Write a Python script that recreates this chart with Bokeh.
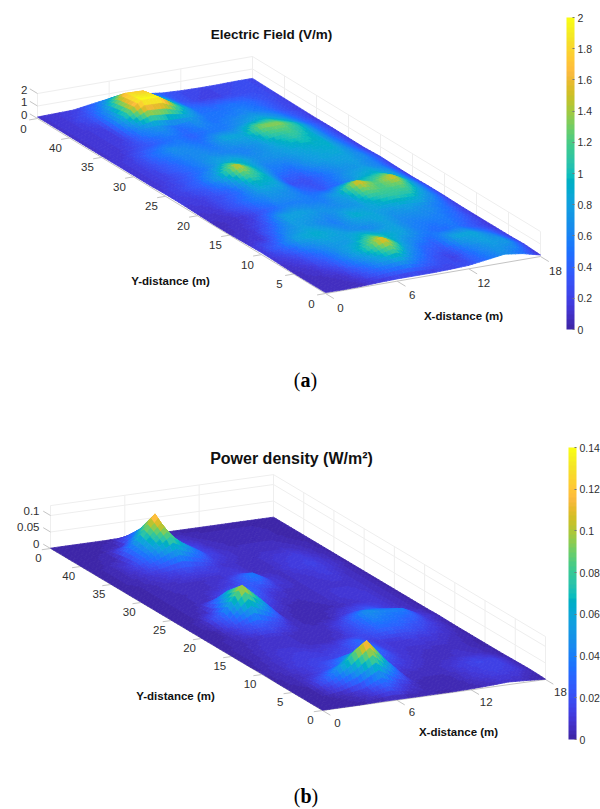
from bokeh.plotting import figure
from bokeh.layouts import column
from bokeh.models import ColumnDataSource, ColorBar, LinearColorMapper, FixedTicker
from bokeh.core.properties import value
from bokeh.embed import file_html
from bokeh.resources import INLINE
import numpy as np

PARULA_RGB = [
(.2422,.1504,.6603),(.2504,.1650,.7076),(.2578,.1818,.7511),(.2647,.1978,.7952),(.2706,.2147,.8364),(.2751,.2342,.8710),
(.2783,.2559,.8991),(.2803,.2782,.9221),(.2813,.3006,.9414),(.2810,.3228,.9579),(.2795,.3447,.9717),(.2760,.3667,.9829),
(.2699,.3892,.9906),(.2602,.4123,.9952),(.2440,.4358,.9988),(.2206,.4603,.9973),(.1963,.4847,.9892),(.1834,.5074,.9798),
(.1786,.5289,.9682),(.1764,.5499,.9520),(.1687,.5703,.9359),(.1540,.5902,.9218),(.1460,.6091,.9079),(.1380,.6276,.8973),
(.1248,.6459,.8883),(.1113,.6635,.8763),(.0952,.6798,.8598),(.0689,.6948,.8394),(.0297,.7082,.8163),(.0036,.7203,.7917),
(.0067,.7312,.7660),(.0433,.7411,.7394),(.0964,.7500,.7120),(.1408,.7584,.6842),(.1717,.7670,.6554),(.1938,.7758,.6251),
(.2161,.7843,.5923),(.2470,.7918,.5567),(.2906,.7973,.5188),(.3406,.8008,.4789),(.3909,.8029,.4354),(.4456,.8024,.3909),
(.5044,.7993,.3480),(.5616,.7942,.3045),(.6174,.7876,.2612),(.6720,.7793,.2227),(.7242,.7698,.1910),(.7738,.7598,.1646),
(.8203,.7498,.1535),(.8634,.7406,.1596),(.9035,.7330,.1774),(.9393,.7288,.2100),(.9728,.7298,.2394),(.9956,.7434,.2371),
(.9970,.7659,.2199),(.9952,.7893,.2028),(.9892,.8136,.1885),(.9786,.8386,.1766),(.9676,.8639,.1643),(.9610,.8890,.1537),
(.9597,.9135,.1423),(.9628,.9373,.1265),(.9691,.9606,.1064),(.9769,.9839,.0805)]


def _tone(i, rgb):
    r, g, b = rgb
    if b >= g and b >= r:
        f = min(1.0, max(0.0, (i - 3) / 12.0))
        r, g = r * (1 - .45 * f), g * (1 - .06 * f)
    return r, g, b


PARULA = ["#%02x%02x%02x" % tuple(int(round(c * 255)) for c in _tone(i, rgb)) for i, rgb in enumerate(PARULA_RGB)]

X_M = [0, 1.5, 3, 4.5, 6, 7.5, 9, 10.5, 12, 13.5, 15, 16.5, 18]
Y_M = [45, 42.5, 40, 37.5, 35, 32.5, 30, 27.5, 25, 22.5, 20, 17.5, 15, 12.5, 10, 7.5, 5, 2.5, 0]

FIELD_Y45 = [.12,.15,.18,.4,.6,.6,.5,.32,.25,.22,.22,.25,.25]
FIELD_Y42 = [.12,.15,.3,.7,1.8,1.75,.95,.35,.22,.2,.25,.28,.22]
FIELD_Y40 = [.12,.15,.18,.95,2,2,1.1,.5,.45,.5,.45,.3,.2]
FIELD_Y37 = [.12,.15,.18,.6,.75,.5,.7,.5,.55,.62,.52,.3,.18]
FIELD_Y35 = [.12,.14,.25,.38,.52,.4,.52,.55,.75,.9,.72,.4,.16]
FIELD_Y32 = [.12,.2,.48,.68,.6,.52,.85,.85,1.35,1.35,1.0,.5,.18]
FIELD_Y30 = [.12,.2,.38,.58,.68,.62,.58,.7,.95,1.1,.92,.5,.16]
FIELD_Y27 = [.12,.2,.35,.52,.85,.9,.68,.72,.8,.88,.92,.55,.15]
FIELD_Y25 = [.16,.24,.42,.85,1.55,.95,.55,.48,.72,.82,.82,.62,.22]
FIELD_Y22 = [.16,.18,.28,.45,1.0,.92,.3,.28,.5,.68,.75,.58,.18]
FIELD_Y20 = [.12,.14,.32,.55,.72,.68,.45,.32,.52,.85,.95,.72,.16]
FIELD_Y17 = [.08,.1,.15,.38,.58,.58,.55,.85,1.6,1.2,1.55,.8,.2]
FIELD_Y15 = [.08,.12,.28,.8,.82,.72,.68,.72,1.05,1.15,1.1,.7,.2]
FIELD_Y12 = [.12,.16,.58,.78,.68,.55,.92,.85,.72,.78,.68,.5,.16]
FIELD_Y10 = [.16,.45,.82,.92,.82,.68,.62,.82,.62,.58,.58,.42,.16]
FIELD_Y07 = [.12,.22,.5,.72,.78,1.05,.92,.82,.58,.45,.52,.32,.16]
FIELD_Y05 = [.08,.12,.3,.68,1.05,1.65,.88,.5,.35,.85,.85,.55,.16]
FIELD_Y02 = [.08,.08,.12,.4,.7,.92,.55,.3,.2,.55,.78,.75,.2]
FIELD_Y00 = [.08,.06,.08,.14,.18,.18,.18,.22,.28,.48,.68,.48,.12]
FIELD = [FIELD_Y45,FIELD_Y42,FIELD_Y40,FIELD_Y37,FIELD_Y35,FIELD_Y32,FIELD_Y30,FIELD_Y27,FIELD_Y25,FIELD_Y22,
         FIELD_Y20,FIELD_Y17,FIELD_Y15,FIELD_Y12,FIELD_Y10,FIELD_Y07,FIELD_Y05,FIELD_Y02,FIELD_Y00]

POWER_Y45 = [.001,.001,.001,.001,.002,.002,.001,.001,.001,.001,.001,.001,.001]
POWER_Y42 = [.001,.001,.002,.006,.055,.02,.008,.004,.003,.003,.003,.002,.001]
POWER_Y40 = [.001,.002,.004,.055,.128,.025,.014,.006,.004,.004,.004,.002,.001]
POWER_Y37 = [.001,.003,.014,.045,.085,.05,.016,.008,.005,.006,.006,.004,.001]
POWER_Y35 = [.001,.003,.008,.014,.02,.016,.008,.006,.006,.01,.012,.006,.001]
POWER_Y32 = [.001,.002,.005,.006,.006,.007,.012,.006,.006,.012,.014,.008,.001]
POWER_Y30 = [.001,.002,.004,.005,.007,.014,.042,.012,.006,.008,.012,.006,.001]
POWER_Y27 = [.001,.002,.004,.006,.022,.032,.012,.006,.006,.008,.008,.006,.001]
POWER_Y25 = [.001,.002,.006,.065,.05,.015,.005,.004,.006,.01,.01,.006,.001]
POWER_Y22 = [.001,.003,.035,.11,.06,.006,.003,.003,.004,.008,.01,.006,.001]
POWER_Y20 = [.001,.002,.015,.032,.018,.005,.003,.004,.015,.022,.012,.006,.001]
POWER_Y17 = [.001,.003,.006,.008,.006,.005,.006,.02,.05,.042,.04,.012,.002]
POWER_Y15 = [.001,.004,.008,.008,.006,.005,.008,.02,.035,.03,.02,.01,.001]
POWER_Y12 = [.001,.005,.01,.012,.01,.014,.03,.012,.01,.012,.01,.006,.001]
POWER_Y10 = [.002,.006,.012,.014,.016,.02,.035,.012,.008,.006,.006,.004,.001]
POWER_Y07 = [.001,.004,.01,.022,.06,.065,.018,.01,.006,.005,.008,.006,.001]
POWER_Y05 = [.001,.002,.032,.075,.126,.06,.006,.005,.005,.012,.016,.014,.002]
POWER_Y02 = [.001,.001,.004,.014,.04,.014,.004,.003,.004,.01,.014,.012,.003]
POWER_Y00 = [.001,.001,.001,.002,.002,.002,.002,.002,.003,.005,.008,.005,.001]
POWER = [POWER_Y45,POWER_Y42,POWER_Y40,POWER_Y37,POWER_Y35,POWER_Y32,POWER_Y30,POWER_Y27,POWER_Y25,POWER_Y22,
         POWER_Y20,POWER_Y17,POWER_Y15,POWER_Y12,POWER_Y10,POWER_Y07,POWER_Y05,POWER_Y02,POWER_Y00]

X_TICKS = [0, 6, 12, 18]
Y_TICKS = [0, 5, 10, 15, 20, 25, 30, 35, 40, 45]
Y_TICK_LABELS = ["0", "5", "10", "15", "20", "25", "30", "35", "40", "0"]

TICK = "#303030"
AXC = "#c4c4c4"
GRID = "#eeeeee"
SANS = "Liberation Sans"
SERIF = "Liberation Serif"


def panel(Z, cfg):
    top, bottom = cfg["page_y"]
    p = figure(width=600, height=bottom - top, x_range=(0, 600), y_range=(bottom, top),
               output_backend="svg", toolbar_location=None, min_border=0)
    p.xaxis.visible = False
    p.yaxis.visible = False
    p.grid.visible = False
    p.outline_line_color = None

    O = np.array(cfg["origin"], float)
    ex = (np.array(cfg["x_end"], float) - O) / 18.0
    ey = (np.array(cfg["y_end"], float) - O) / 45.0
    zs = cfg["z_px_per_unit"]
    zbox, cmax = cfg["zbox"], cfg["cmax"]

    def proj(x, y, z=0.0):
        return O[0] + ex[0] * x + ey[0] * y, O[1] + ex[1] * x + ey[1] * y - zs * z

    segs = []
    for z in cfg["zbox_ticks"]:
        segs.append((*proj(0, 45, z), *proj(18, 45, z)))
        segs.append((*proj(18, 45, z), *proj(18, 0, z)))
    for v in X_TICKS:
        segs.append((*proj(v, 45, 0), *proj(v, 45, zbox)))
    for v in Y_TICKS:
        segs.append((*proj(18, v, 0), *proj(18, v, zbox)))
    s = np.array(segs)
    p.segment(s[:, 0], s[:, 1], s[:, 2], s[:, 3], line_color=GRID, line_width=1)

    segs = [(*proj(0, 45), *proj(0, 0)), (*proj(0, 0), *proj(18, 0))]
    for v in Y_TICKS:
        segs.append((*proj(0, v), *proj(-0.7, v)))
    for v in X_TICKS:
        segs.append((*proj(v, 0), *proj(v, -1.3)))
    for v in cfg["z_ticks"]:
        segs.append((*proj(0, 45, v), *proj(0, 46.2, v)))
    s = np.array(segs)
    p.segment(s[:, 0], s[:, 1], s[:, 2], s[:, 3], line_color=AXC, line_width=1)

    Z = np.array(Z, float)
    n = 5
    xs_all, ys_all, cols = [], [], []
    t = np.linspace(0, 1, n + 1)
    for i in range(len(Y_M) - 1):
        for j in range(len(X_M) - 2, -1, -1):
            for iu in range(n):
                for ju in range(n - 1, -1, -1):
                    us = [t[iu], t[iu], t[iu + 1], t[iu + 1]]
                    vs = [t[ju], t[ju + 1], t[ju + 1], t[ju]]
                    px, py, zz = [], [], []
                    for u, w in zip(us, vs):
                        xx = X_M[j] + (X_M[j + 1] - X_M[j]) * w
                        yy = Y_M[i] + (Y_M[i + 1] - Y_M[i]) * u
                        zv = (Z[i, j] * (1 - u) * (1 - w) + Z[i, j + 1] * (1 - u) * w
                              + Z[i + 1, j] * u * (1 - w) + Z[i + 1, j + 1] * u * w)
                        qx, qy = proj(xx, yy, zv)
                        px.append(round(float(qx), 2)); py.append(round(float(qy), 2)); zz.append(zv)
                    k = min(63, int(np.mean(zz) / cmax * 64))
                    xs_all.append(px); ys_all.append(py); cols.append(PARULA[k])
    src = ColumnDataSource(dict(xs=xs_all, ys=ys_all, c=cols))
    p.patches("xs", "ys", source=src, fill_color="c", line_color="c", line_width=0.8, fill_alpha=1.0, line_alpha=1.0)

    tkw = dict(text_font=value(SANS), text_font_size="11.5px", text_color=TICK,
               text_align="center", text_baseline="middle")
    lx, ly = [], []
    for v in Y_TICKS:
        q = proj(0, v)
        lx.append(q[0] + cfg["y_lab"][0]); ly.append(q[1] + cfg["y_lab"][1])
    p.text(lx, ly, text=Y_TICK_LABELS, **tkw)
    lx, ly = [], []
    for v in X_TICKS:
        q = proj(v, 0)
        lx.append(q[0] + cfg["x_lab"][0]); ly.append(q[1] + cfg["x_lab"][1])
    p.text(lx, ly, text=[str(v) for v in X_TICKS], **tkw)
    q = proj(0, 45)
    p.text([cfg["z_lab"][0]] * len(cfg["z_ticks"]),
           [q[1] - zs * v + cfg["z_lab"][1] for v in cfg["z_ticks"]],
           text=cfg["z_tick_labels"], text_font=value(SANS), text_font_size="11.5px", text_color=TICK,
           text_align="right", text_baseline="middle")

    bold = dict(text_font=value(SANS), text_font_style="bold", text_color="#111111",
                text_align="center", text_baseline="middle")
    p.text([cfg["title_xy"][0]], [cfg["title_xy"][1]], text=[cfg["title"]], text_font_size=cfg["title_size"], **bold)
    p.text([cfg["xl_xy"][0]], [cfg["xl_xy"][1]], text=["X-distance (m)"], text_font_size="11.5px", **bold)
    p.text([cfg["yl_xy"][0]], [cfg["yl_xy"][1]], text=["Y-distance (m)"], text_font_size="11.5px", **bold)

    cx, cy = cfg["cap_xy"]
    cap = dict(text_font=value(SERIF), text_font_size="20px", text_color="#000000", text_baseline="middle")
    p.text([cx], [cy], text=["("], text_align="right", **cap)
    p.text([cx], [cy], text=[cfg["cap"]], text_align="left", text_font_style="bold", **cap)
    p.text([cx + cfg["cap_w"]], [cy], text=[")"], text_align="left", **cap)

    mapper = LinearColorMapper(palette=PARULA, low=0, high=cmax)
    bar = ColorBar(color_mapper=mapper, ticker=FixedTicker(ticks=cfg["bar_ticks"]),
                   width=8, height=cfg["bar_h"], location=(cfg["bar_xy"][0], bottom - cfg["bar_xy"][1]),
                   major_label_text_font=SANS, major_label_text_font_size="10.5px", major_label_text_color=TICK,
                   major_tick_line_color="#777777", major_tick_in=2, major_tick_out=0, label_standoff=3,
                   bar_line_color=None, background_fill_color=None, padding=0, margin=0, border_line_color=None,
                   minor_tick_line_color=None)
    p.add_layout(bar, "center")
    return p


A = dict(page_y=(0, 408), origin=(325, 293), x_end=(540, 256), y_end=(37, 118), z_px_per_unit=12.5,
         zbox=2, zbox_ticks=[1, 2], z_ticks=[0, 1, 2], z_tick_labels=["0", "1", "2"], cmax=2,
         y_lab=(-14, 10), x_lab=(15, 14), z_lab=(27, -4),
         title="Electric Field (V/m)", title_size="13.5px", title_xy=(271, 34), xl_xy=(463, 315), yl_xy=(170, 280),
         cap="a", cap_xy=(300, 379), cap_w=10,
         bar_ticks=[0, .2, .4, .6, .8, 1, 1.2, 1.4, 1.6, 1.8, 2], bar_h=312, bar_xy=(566, 329))
B = dict(page_y=(408, 809), origin=(322, 710), x_end=(545, 679), y_end=(50, 548), z_px_per_unit=330,
         zbox=.13, zbox_ticks=[.05, .1, .13], z_ticks=[0, .05, .1], z_tick_labels=["0", "0.05", "0.1"], cmax=.14,
         y_lab=(-12, 9), x_lab=(15, 12), z_lab=(39, -5),
         title="Power density (W/m²)", title_size="16px", title_xy=(291, 458), xl_xy=(458, 731), yl_xy=(175, 695),
         cap="b", cap_xy=(300, 795), cap_w=11,
         bar_ticks=[0, .02, .04, .06, .08, .1, .12, .14], bar_h=292, bar_xy=(568, 739))

page = column(panel(FIELD, A), panel(POWER, B), spacing=0)
open("out.html", "w").write(file_html(page, INLINE))
